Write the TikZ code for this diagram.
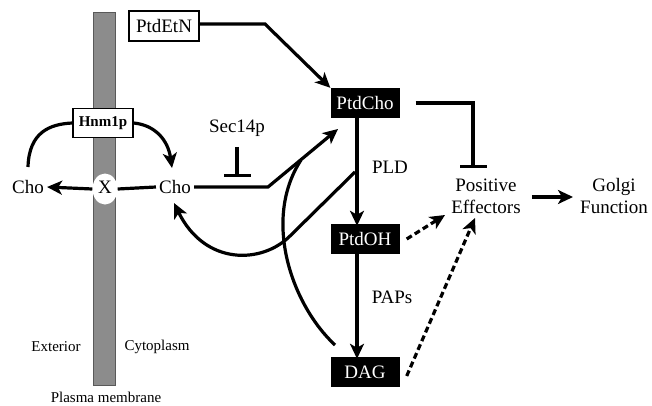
\documentclass[tikz,border=0pt]{standalone}
\usepackage{fontspec}
\setmainfont{Liberation Serif}
\usetikzlibrary{arrows.meta,shapes.geometric}
\begin{document}
\begin{tikzpicture}[x=1pt,y=-1pt,
  every node/.style={inner sep=3pt,font=\fontsize{19}{22}\selectfont},
  small/.style={font=\fontsize{15}{18}\selectfont},
  wbox/.style={draw,line width=1.2pt,fill=white,minimum width=70pt,minimum height=30pt,inner sep=0pt},
  bbox/.style={fill=black,text=white,minimum width=69pt,minimum height=30pt,inner sep=0pt},
  conn/.style={line width=3.2pt,line join=miter},
  arr/.style={conn,-{Stealth[length=15pt,width=14pt,inset=4pt]}},
  darr/.style={arr,dash pattern=on 6pt off 3.5pt},
  inh/.style={conn,-{Bar[width=27pt,line width=3.2pt]}}]
\useasboundingbox (0,0) rectangle (652,406);
% membrane
\node[draw=black!65,fill=black!45,line width=1pt,minimum width=22pt,minimum height=372pt,inner sep=0pt] (mem) at (104,199) {};
\node[draw,line width=1.2pt,fill=white,minimum width=60pt,minimum height=29pt,inner sep=0pt,font=\fontsize{15}{18}\selectfont\bfseries] (hnm) at (103,123) {Hnm1p};
\node[ellipse,fill=white,minimum width=25pt,minimum height=31pt,inner sep=0pt] (x) at (105,189) {};
\node[inner sep=0pt] (xl) at (105,187) {X};
\node (chol) at (28,187) {Cho};
\node (chor) at (175,187) {Cho};
\node[wbox] (etn) at (164,26) {PtdEtN};
\node[bbox] (pc) at (365,103) {PtdCho};
\node[bbox] (pa) at (365,239) {PtdOH};
\node[bbox] (dag) at (365,372) {DAG};
\node (sec) at (237,128) {Sec14p};
\node (pld) at (390,167) {PLD};
\node (paps) at (392,297) {PAPs};
\node[align=center] (eff) at (486,196) {Positive\\Effectors};
\node[align=center] (golgi) at (614,196) {Golgi\\Function};
\node[small] (ext) at (56,347) {Exterior};
\node[small] (cyt) at (157,347) {Cytoplasm};
\node[small,inner sep=0pt] (pm) at (106,397) {Plasma membrane};
% coordinates
\coordinate (j1) at (268,187);
\coordinate (m1) at (301,160);
\coordinate (pcin) at (338,129);
\coordinate (k1) at (355,172);
\coordinate (cbot) at (290,236);
\coordinate (dgs) at (335,345);
\coordinate (t1) at (237,147);
\coordinate (t1b) at (237,177);
\coordinate (t2) at (473,103);
\coordinate (t2b) at (473,168);
\coordinate (etnk) at (265,24);
\coordinate (chlt) at (28,167);
\coordinate (chrt) at (172,168);
\coordinate (chrb) at (174,203);
% connectors
\draw[arr] (x.west) -- (chol.east);
\draw[conn] (x.east) -- (chor.west);
\draw[conn] (chlt) .. controls (29,132) and (50,124) .. (hnm.west);
\draw[arr] (hnm.east) .. controls (155,125) and (168,140) .. (chrt);
\draw[arr] (etn.east |- etnk) -- (etnk) -- (pc.north west);
\draw[arr] (chor.east) -- (j1) -- (pcin);
\draw[conn] (dgs) .. controls (292,305) and (262,220) .. (m1);
\draw[arr] (k1) -- (cbot) .. controls (262,264) and (205,266) .. (chrb);
\draw[inh] (t1) -- (t1b);
\draw[arr] ([xshift=-8pt,yshift=6pt]pc.south) -- ([xshift=-8pt,yshift=-2pt]pa.north);
\draw[arr] ([xshift=-8pt,yshift=6pt]pa.south) -- ([xshift=-8pt,yshift=-2pt]dag.north);
\draw[inh] (pc.east) ++(16,0) -- (t2) -- (t2b);
\draw[darr] ([xshift=7pt]pa.east) -- (445,215);
\draw[darr] ([xshift=7pt,yshift=-4pt]dag.east) -- (475,218);
\draw[arr] (eff.east |- 0,197) ++(8,0) -- (573,197);
\end{tikzpicture}
\end{document}
